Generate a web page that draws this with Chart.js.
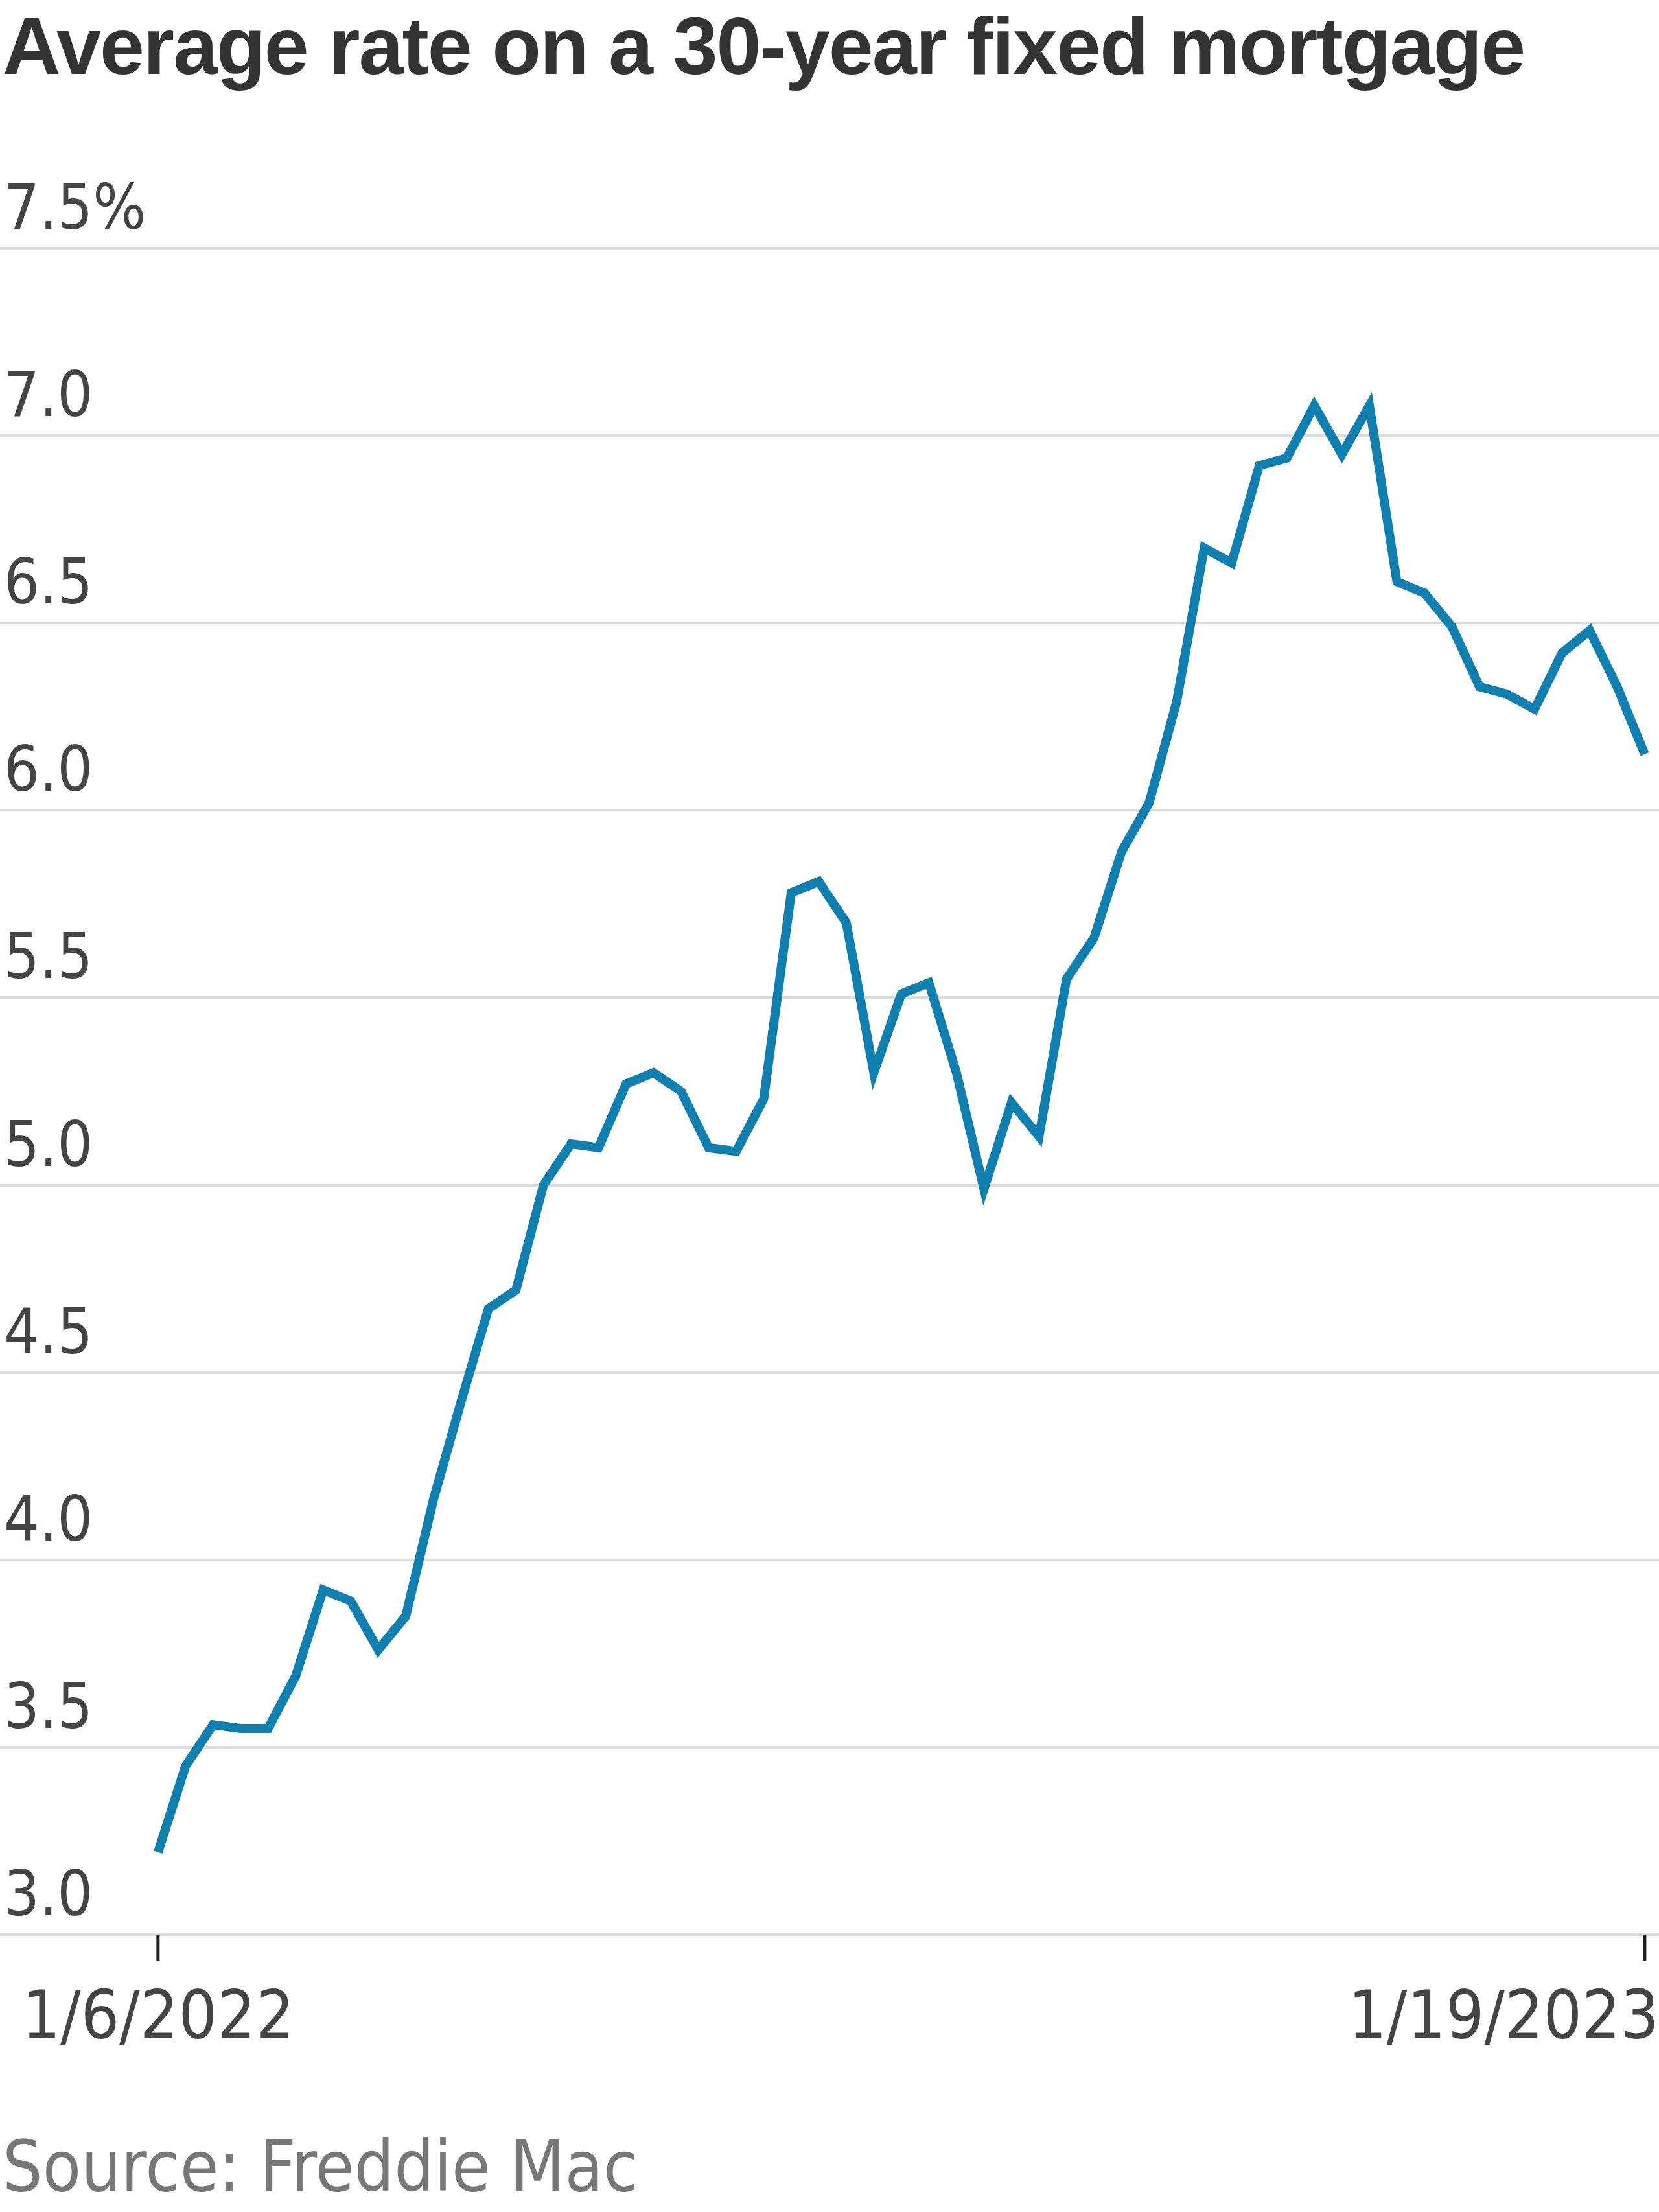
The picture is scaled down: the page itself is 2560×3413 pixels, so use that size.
<!DOCTYPE html>
<html lang="en">
<head>
<meta charset="UTF-8">
<title>Average rate on a 30-year fixed mortgage</title>
<script src="https://cdn.jsdelivr.net/npm/chart.js"></script>
<style>
  body { margin:0; width:2560px; height:3413px; background:#fff; position:relative; overflow:hidden;
         font-family:'Liberation Sans Narrow','DejaVu Sans Condensed','Liberation Sans',sans-serif; }
  h1 { position:absolute; left:4px; top:0px; margin:0; font-size:124px; font-weight:bold; color:#333;
       font-family:'Liberation Sans','DejaVu Sans',sans-serif; letter-spacing:-2px; white-space:nowrap; }
  #wrap { position:absolute; left:0; top:150px; width:2560px; height:3050px; }
  #src { position:absolute; left:4px; top:3280px; font-size:108px; color:#777; }
</style>
</head>
<body>
<h1>Average rate on a 30-year fixed mortgage</h1>
<div id="wrap"><canvas id="c"></canvas></div>
<div id="src">Source: Freddie Mac</div>
<script>
// weekly Freddie Mac 30-year rate, 1/6/2022 .. 1/19/2023
const rates = [3.22,3.45,3.56,3.55,3.55,3.69,3.92,3.89,3.76,3.85,4.16,4.42,4.67,4.72,5.00,5.11,5.10,5.27,5.30,5.25,
  5.10,5.09,5.23,5.78,5.81,5.70,5.30,5.51,5.54,5.30,4.99,5.22,5.13,5.55,5.66,5.89,6.02,6.29,6.70,6.66,
  6.92,6.94,7.08,6.95,7.08,6.61,6.58,6.49,6.33,6.31,6.27,6.42,6.48,6.33,6.15];
const xLabels = { 0: '1/6/2022', 54: '1/19/2023' };
const yTicks = [3.0,3.5,4.0,4.5,5.0,5.5,6.0,6.5,7.0,7.5];

const labelPlugin = {
  id: 'labels',
  afterDraw(chart) {
    const ctx = chart.ctx, x = chart.scales.x, y = chart.scales.y;
    ctx.save();
    ctx.fillStyle = '#444';
    ctx.font = '96px "Liberation Sans Narrow","DejaVu Sans Condensed",sans-serif';
    ctx.textBaseline = 'alphabetic';
    ctx.textAlign = 'left';
    yTicks.forEach(v => {
      const t = v === 7.5 ? '7.5%' : v.toFixed(1);
      ctx.fillText(t, 6, y.getPixelForValue(v) - 30);
    });
    const base = y.getPixelForValue(3.0);
    ctx.strokeStyle = '#222'; ctx.lineWidth = 5;
    ctx.font = '104px "Liberation Sans Narrow","DejaVu Sans Condensed",sans-serif';
    Object.keys(xLabels).forEach(k => {
      const px = x.getPixelForValue(+k);
      ctx.beginPath(); ctx.moveTo(px, base); ctx.lineTo(px, base + 40); ctx.stroke();
      ctx.textAlign = +k === 0 ? 'center' : 'right';
      ctx.fillText(xLabels[k], +k === 0 ? px : 2560, base + 160);
    });
    ctx.restore();
  }
};

new Chart(document.getElementById('c'), {
  type: 'line',
  data: {
    datasets: [{ data: rates.map((v, i) => ({ x: i, y: v })), borderColor: '#0f7fb0', borderWidth: 14,
      pointRadius: 0, tension: 0, borderJoinStyle: 'miter', borderCapStyle: 'butt' }]
  },
  options: {
    responsive: true, maintainAspectRatio: false, animation: false,
    layout: { padding: { top: 233, bottom: 215, left: 0, right: 0 } },
    plugins: { legend: { display: false }, tooltip: { enabled: false } },
    scales: {
      x: { type: 'linear', min: -5.74, max: 54.52, display: false },
      y: { min: 3.0, max: 7.5, border: { display: false },
        afterBuildTicks: s => { s.ticks = yTicks.map(v => ({ value: v })); },
        ticks: { display: false },
        grid: { color: '#dcdcdc', lineWidth: 4, drawTicks: false } }
    }
  },
  plugins: [labelPlugin]
});
</script>
</body>
</html>
